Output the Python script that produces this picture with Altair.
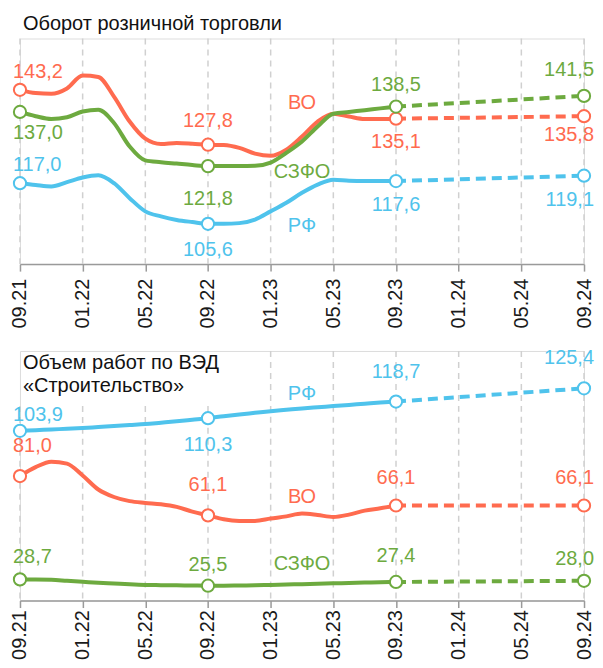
import altair as alt
import pandas as pd

# ---------------- data ----------------
SERIES = ["ВО", "СЗФО", "РФ"]
COLORS = ["#FF6B4F", "#6DAA3F", "#4FC3EC"]
TICK_LABELS = ["09.21", "01.22", "05.22", "09.22", "01.23",
               "05.23", "09.23", "01.24", "05.24", "09.24"]
TICK_MONTHS = [0, 4, 8, 12, 16, 20, 24, 28, 32, 36]
KEY_MONTHS = [0, 12, 24, 36]
LAST_FACT = 24
FORECAST = 36

# Оборот розничной торговли, 09.21 .. 09.23 (monthly)
retail_vo = [143.2, 142.3, 142.1, 143.6, 147.2, 146.8, 141.3, 134.3, 129.5,
             128.0, 128.3, 128.1, 127.8, 127.7, 126.9, 125.3, 124.7, 126.4,
             130.1, 134.3, 136.5, 135.7, 135.0, 135.0, 135.1]
retail_szfo = [137.0, 135.8, 135.0, 135.5, 137.1, 137.6, 133.9, 127.3, 123.4,
               122.9, 122.5, 122.1, 121.8, 121.8, 121.8, 121.9, 122.8, 125.5,
               128.7, 132.9, 136.5, 137.0, 137.5, 138.0, 138.5]
retail_rf = [117.0, 116.5, 116.1, 117.3, 118.6, 119.2, 117.0, 112.8, 109.1,
             107.7, 106.7, 106.1, 105.6, 105.6, 105.8, 106.8, 109.1, 111.5,
             114.3, 116.6, 118.0, 117.7, 117.6, 117.6, 117.6]
retail_fc = {"ВО": 135.8, "СЗФО": 141.5, "РФ": 119.1}

# Объем работ по ВЭД «Строительство»
constr_vo = [81.0, 85.5, 88.3, 87.3, 81.3, 74.2, 70.4, 68.3, 67.4, 66.7,
             65.4, 63.0, 61.1, 59.1, 58.3, 58.3, 59.5, 60.6, 62.0, 61.3,
             60.3, 61.5, 63.5, 64.7, 66.1]
constr_szfo = [28.7, 28.7, 28.5, 28.0, 27.5, 27.0, 26.6, 26.2, 25.9, 25.8,
               25.7, 25.6, 25.5, 25.5, 25.6, 25.7, 25.9, 26.1, 26.3, 26.5,
               26.7, 26.9, 27.1, 27.3, 27.4]
constr_rf = [103.9, 104.2, 104.6, 104.9, 105.3, 105.8, 106.3, 106.8, 107.3,
             108.0, 108.7, 109.5, 110.3, 111.3, 112.2, 113.0, 113.8, 114.5,
             115.2, 115.8, 116.4, 117.0, 117.6, 118.2, 118.7]
constr_fc = {"ВО": 66.1, "СЗФО": 28.0, "РФ": 125.4}

# ---------------- styles ----------------
FONT = "Liberation Sans"
FS = 20
# pixel offsets of the value labels relative to their circle
LABEL_DY = {
    "r": {("ВО", 0): -18, ("СЗФО", 0): 21, ("РФ", 0): -18,
          ("ВО", 12): -24, ("СЗФО", 12): 33, ("РФ", 12): 26,
          ("ВО", 24): 23, ("СЗФО", 24): -22, ("РФ", 24): 24,
          ("ВО", 36): 19, ("СЗФО", 36): -26, ("РФ", 36): 24},
    "c": {("ВО", 0): -30, ("СЗФО", 0): -22, ("РФ", 0): -16,
          ("ВО", 12): -30, ("СЗФО", 12): -21, ("РФ", 12): 27,
          ("ВО", 24): -28, ("СЗФО", 24): -26, ("РФ", 24): -30,
          ("ВО", 36): -28, ("СЗФО", 36): -22, ("РФ", 36): -30},
}
COL_STYLE = {0: dict(align="left", dx=-7), 12: dict(align="center", dx=0),
             24: dict(align="center", dx=0), 36: dict(align="right", dx=10)}
NAME_MONTH = 18
NAME_DY = {"r": {"ВО": -34, "СЗФО": 31, "РФ": 33},
           "c": {"ВО": -17, "СЗФО": -20, "РФ": -14}}
Y_DOMAIN = {"r": [94.3, 157.6], "c": [18.0, 144.3]}
HEIGHT = {"r": 226, "c": 250}
LABEL_PAD = {"r": 7, "c": 2}
WIDTH = 565
# gridlines partly hidden behind the second title (start value)
GRID_START_C = {0: 116.5, 4: 116.5, 8: 116.5, 12: 116.5}


def fmt(v):
    return f"{v:.1f}".replace(".", ",")


def build_panel(key, vals, fc, title):
    fact = []
    for s, arr in zip(SERIES, vals):
        for m, v in enumerate(arr):
            fact.append({"series": s, "m": m, "v": v})
    fact = pd.DataFrame(fact)
    fcst = []
    for s, arr in zip(SERIES, vals):
        fcst.append({"series": s, "m": LAST_FACT, "v": arr[LAST_FACT]})
        fcst.append({"series": s, "m": FORECAST, "v": fc[s]})
    fcst = pd.DataFrame(fcst)
    pts = []
    for s, arr in zip(SERIES, vals):
        for m in KEY_MONTHS:
            v = fc[s] if m == FORECAST else arr[m]
            pts.append({"series": s, "m": m, "v": v, "label": fmt(v),
                        "dy": LABEL_DY[key][(s, m)]})
    pts = pd.DataFrame(pts)

    dom = Y_DOMAIN[key]
    xenc = alt.X("m:Q", scale=alt.Scale(domain=[0, 36], nice=False, zero=False),
                 axis=alt.Axis(values=TICK_MONTHS,
                               labelExpr="%s[round(datum.value/4)]" % str(TICK_LABELS),
                               labelAngle=270, grid=False, title=None,
                               domainColor="#9a9a9a", domainWidth=1.5,
                               tickColor="#9a9a9a", tickWidth=1.5, tickSize=7,
                               labelFont=FONT, labelFontSize=FS, labelColor="#1a1a1a",
                               labelPadding=LABEL_PAD[key]))
    yscale = alt.Scale(domain=dom, nice=False, zero=False)
    yenc = alt.Y("v:Q", scale=yscale, axis=None)
    color = alt.Color("series:N", scale=alt.Scale(domain=SERIES, range=COLORS), legend=None)

    grid_rows = []
    for m in TICK_MONTHS:
        top = GRID_START_C.get(m, dom[1]) if key == "c" else dom[1]
        grid_rows.append({"m": m, "y1": top, "y2": dom[0]})
    grid = alt.Chart(pd.DataFrame(grid_rows)).mark_rule(
        color="#d0d0d0", strokeWidth=1.5, strokeDash=[6, 5]
    ).encode(x=xenc, y=alt.Y("y1:Q", scale=yscale, axis=None), y2="y2:Q")

    line = alt.Chart(fact).mark_line(strokeWidth=4, interpolate="monotone").encode(
        x=xenc, y=yenc, color=color)
    dash = alt.Chart(fcst).mark_line(strokeWidth=4, strokeDash=[10, 6]).encode(
        x=xenc, y=yenc, color=color)
    circ = alt.Chart(pts).mark_point(shape="circle", size=150, filled=False,
                                     fill="white", fillOpacity=1, strokeWidth=2,
                                     opacity=1).encode(
        x=xenc, y=yenc, color=color)

    layers = [grid, line, dash, circ]
    # value labels, one layer per (column, offset)
    for m in KEY_MONTHS:
        sub = pts[pts.m == m]
        for dy in sorted(sub.dy.unique()):
            part = sub[sub.dy == dy]
            layers.append(alt.Chart(part).mark_text(
                font=FONT, fontSize=FS, baseline="middle", dy=int(dy),
                **COL_STYLE[m]).encode(x=xenc, y=yenc, text="label:N", color=color))
    # series names
    for s, arr in zip(SERIES, vals):
        nm = pd.DataFrame([{"series": s, "m": NAME_MONTH, "v": arr[NAME_MONTH]}])
        layers.append(alt.Chart(nm).mark_text(
            font=FONT, fontSize=FS, baseline="middle", align="center",
            dy=NAME_DY[key][s]).encode(x=xenc, y=yenc, text="series:N", color=color))

    return alt.layer(*layers).properties(width=WIDTH, height=HEIGHT[key], title=title)


top = build_panel("r", [retail_vo, retail_szfo, retail_rf], retail_fc,
                  alt.TitleParams("Оборот розничной торговли", anchor="start",
                                  frame="group", font=FONT, fontSize=FS,
                                  fontWeight="normal", color="#111111", dx=3, offset=4))
bottom = build_panel("c", [constr_vo, constr_szfo, constr_rf], constr_fc,
                     alt.TitleParams(["Объем работ по ВЭД", "«Строительство»"],
                                     anchor="start", frame="group", font=FONT,
                                     fontSize=FS, fontWeight="normal", color="#111111",
                                     dx=3, offset=-48, lineHeight=23))

chart = alt.vconcat(top, bottom, spacing=18).properties(
    padding={"left": 1, "top": 4, "right": 0, "bottom": 0}
).configure_view(stroke=None).configure(background="white")

chart.save("out.html", embed_options={"renderer": "svg", "actions": False})
